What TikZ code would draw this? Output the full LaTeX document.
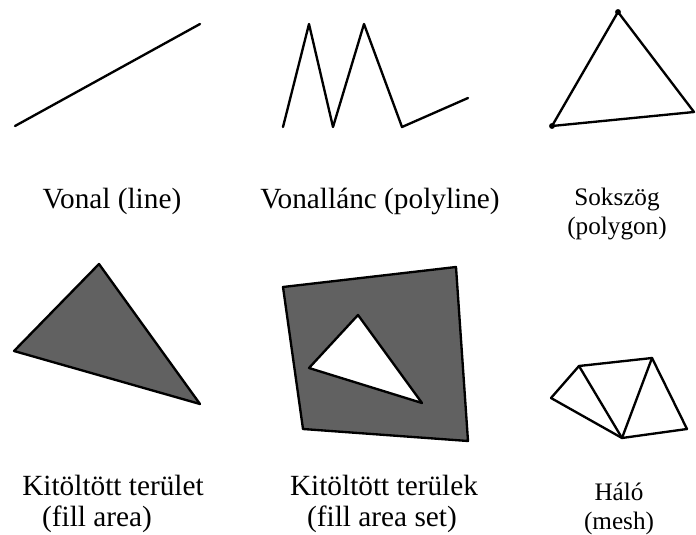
\documentclass[tikz,border=0pt]{standalone}
\usepackage{fontspec}
\setmainfont{Liberation Serif}

\begin{document}
\begin{tikzpicture}[
    x=0.03cm, y=-0.03cm,
    prim/.style={draw, line width=2pt, line join=round, line cap=round},
    filled/.style={prim, fill=black!62},
    hole/.style={prim, fill=white},
    vdot/.style={circle, fill, inner sep=0pt, minimum size=5pt},
    lbl/.style={font=\fontsize{25}{29}\selectfont, align=center, inner sep=0pt},
    smalllbl/.style={font=\fontsize{21.5}{25}\selectfont, align=center, inner sep=0pt}
]
\useasboundingbox (0,0) rectangle (696,535);

% Line
\coordinate (l1) at (15,126);
\coordinate (l2) at (200,24);
\draw[prim] (l1) -- (l2);

% Polyline
\coordinate (p1) at (283,127);
\coordinate (p2) at (309,24);
\coordinate (p3) at (333,127);
\coordinate (p4) at (364,24);
\coordinate (p5) at (402,127);
\coordinate (p6) at (468,98);
\draw[prim] (p1) -- (p2) -- (p3) -- (p4) -- (p5) -- (p6);

% Polygon
\coordinate (g1) at (618,12);
\coordinate (g2) at (552,126);
\coordinate (g3) at (694,112);
\draw[prim] (g1) -- (g2) -- (g3) -- cycle;
\node[vdot] (g1dot) at (g1) {};
\node[vdot] (g2dot) at (g2) {};

% Fill area
\coordinate (f1) at (99,264);
\coordinate (f2) at (14,351);
\coordinate (f3) at (200,404);
\draw[filled] (f1) -- (f2) -- (f3) -- cycle;

% Fill area set
\coordinate (q1) at (283,287);
\coordinate (q2) at (456,267);
\coordinate (q3) at (468,441);
\coordinate (q4) at (303,429);
\draw[filled] (q1) -- (q2) -- (q3) -- (q4) -- cycle;
\coordinate (t1) at (358,315);
\coordinate (t2) at (309,368);
\coordinate (t3) at (422,403);
\draw[hole] (t1) -- (t2) -- (t3) -- cycle;

% Mesh
\coordinate (m1) at (551,398);
\coordinate (m2) at (579,366);
\coordinate (m3) at (652,358);
\coordinate (m4) at (622,438);
\coordinate (m5) at (687,429);
\foreach \a/\b in {m1/m2,m2/m3,m3/m5,m5/m4,m4/m1,m2/m4,m3/m4} {
  \draw[prim] (\a) -- (\b);
}

% Labels
\node[lbl] (lineLbl) at (112,201) {Vonal (line)};
\node[lbl] (polylineLbl) at (380,201) {Vonallánc (polyline)};
\node[smalllbl] (polygonLbl) at (617,214) {Sokszög\\(polygon)};
\node[lbl] (fillLbl) at (113,485) {Kitöltött terület};
\node[lbl] (fillParLbl) at (97,519) {(fill area)};
\node[lbl] (setLbl) at (384,485) {Kitöltött terülek};
\node[lbl] (setParLbl) at (382,519) {(fill area set)};
\node[smalllbl] (meshLbl) at (619,509) {Háló\\(mesh)};

\end{tikzpicture}
\end{document}
